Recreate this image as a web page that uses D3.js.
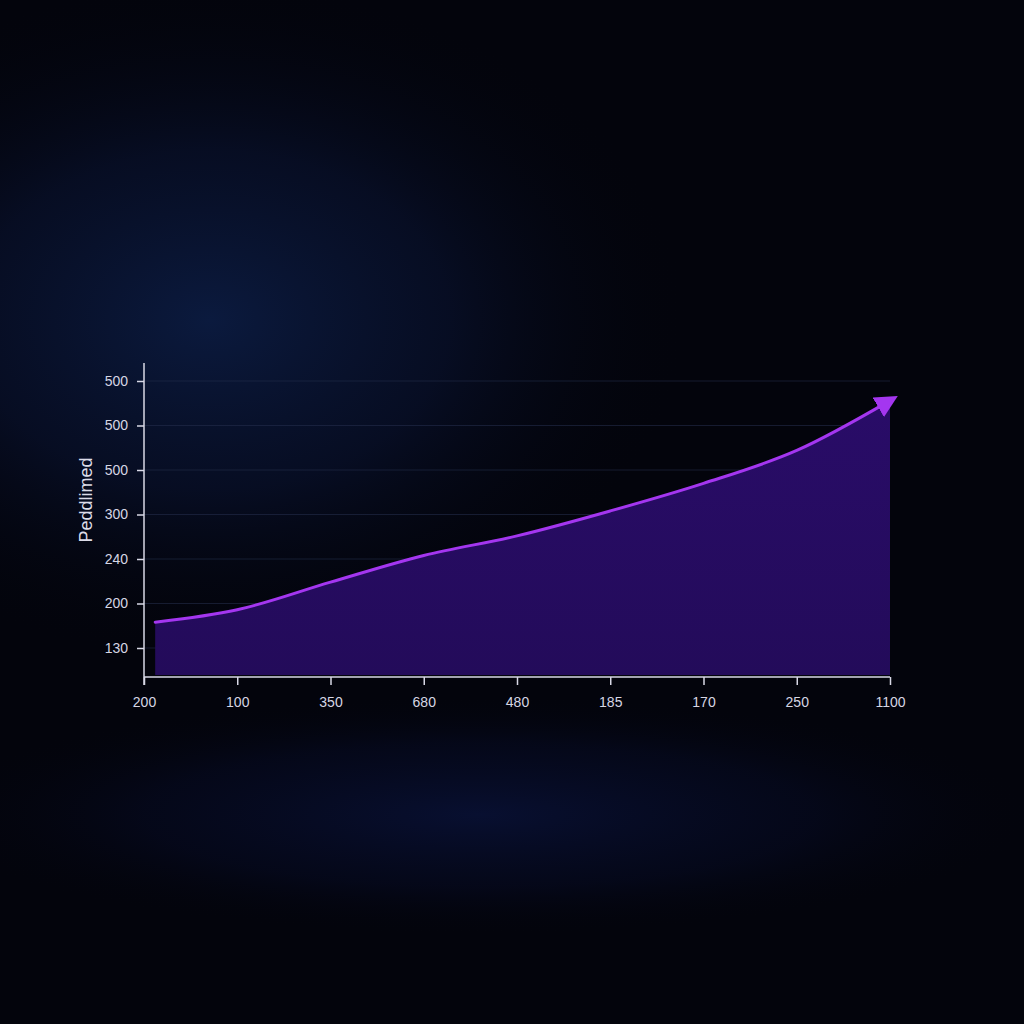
<!DOCTYPE html>
<html>
<head>
<meta charset="utf-8">
<script src="https://cdn.jsdelivr.net/npm/d3@7"></script>
<style>
  html, body { margin: 0; padding: 0; background: #03040c; }
  svg { display: block; }
</style>
</head>
<body>
<svg id="chart" width="1024" height="1024"></svg>
<script>
// ---- data ----
const xCategories = ["200", "100", "350", "680", "480", "185", "170", "250", "1100"];
const yTickValues = [100, 150, 200, 250, 300, 350, 400];
const yTickLabels = ["130", "200", "240", "300", "500", "500", "500"];
const seriesX = [0.12, 1, 2, 3, 4, 5, 6, 7, 8];
const seriesValues = [129, 143, 174, 204, 226, 254, 285, 322, 378];
const yAxisTitle = "Peddlimed";

(function () {
// ---- layout ----
const svg = d3.select("#chart");
const W = 1024, H = 1024;
const pLeft = 144, pRight = 890, pTop = 363, pBottom = 677;
const font = "'Liberation Sans', Arial, sans-serif";

const defs = svg.append("defs");
const g1 = defs.append("radialGradient").attr("id", "glow1")
  .attr("cx", 0.5).attr("cy", 0.5).attr("r", 0.5);
g1.append("stop").attr("offset", "0%").attr("stop-color", "#0b1a3e");
g1.append("stop").attr("offset", "50%").attr("stop-color", "#08102a").attr("stop-opacity", 0.75);
g1.append("stop").attr("offset", "100%").attr("stop-color", "#03040c").attr("stop-opacity", 0);
const g2 = defs.append("radialGradient").attr("id", "glow2")
  .attr("cx", 0.5).attr("cy", 0.5).attr("r", 0.5);
g2.append("stop").attr("offset", "0%").attr("stop-color", "#0a1440").attr("stop-opacity", 0.7);
g2.append("stop").attr("offset", "60%").attr("stop-color", "#070d2c").attr("stop-opacity", 0.4);
g2.append("stop").attr("offset", "100%").attr("stop-color", "#03040c").attr("stop-opacity", 0);
const areaGrad = defs.append("linearGradient").attr("id", "areaGrad")
  .attr("x1", 0).attr("x2", 0).attr("y1", 0).attr("y2", 1);
areaGrad.append("stop").attr("offset", "0%").attr("stop-color", "#290c68");
areaGrad.append("stop").attr("offset", "100%").attr("stop-color", "#230b5a");

const marker = defs.append("marker").attr("id", "arrow")
  .attr("viewBox", "0 0 10 10").attr("refX", 6).attr("refY", 5)
  .attr("markerWidth", 7.5).attr("markerHeight", 7.5)
  .attr("markerUnits", "strokeWidth").attr("orient", "auto");
marker.append("path").attr("d", "M0,0 L10,5 L0,10 Z").attr("fill", "#a436f0");

// background
svg.append("rect").attr("width", W).attr("height", H).attr("fill", "#03040c");
svg.append("ellipse").attr("cx", 210).attr("cy", 320).attr("rx", 480).attr("ry", 340)
  .attr("fill", "url(#glow1)");
svg.append("ellipse").attr("cx", 480).attr("cy", 815).attr("rx", 560).attr("ry", 120)
  .attr("fill", "url(#glow2)");

// scales
const x = d3.scaleLinear().domain([0, xCategories.length - 1]).range([pLeft, pRight]);
const yPerTick = 44.5;
const y = d3.scaleLinear().domain([100, 400]).range([648, 648 - 6 * yPerTick]);

// grid
svg.append("g").selectAll("line").data(yTickValues).join("line")
  .attr("x1", pLeft).attr("x2", pRight)
  .attr("y1", d => y(d)).attr("y2", d => y(d))
  .attr("stroke", "#26304f").attr("stroke-opacity", 0.55).attr("stroke-width", 1);

// area
const baseY = pBottom - 2;
const area = d3.area().x((d, i) => x(seriesX[i])).y0(baseY).y1(d => y(d))
  .curve(d3.curveMonotoneX);
svg.append("path").datum(seriesValues).attr("d", area).attr("fill", "url(#areaGrad)");

// line
const line = d3.line().x((d, i) => x(seriesX[i])).y(d => y(d)).curve(d3.curveMonotoneX);
svg.append("path").datum(seriesValues).attr("d", line)
  .attr("fill", "none").attr("stroke", "#a436f0").attr("stroke-width", 3)
  .attr("stroke-linecap", "round")
  .attr("marker-end", "url(#arrow)");

// axes
const axisColor = "#d8d8e6";
const yAxis = d3.axisLeft(y).tickValues(yTickValues)
  .tickFormat((d, i) => yTickLabels[i]).tickSize(7).tickPadding(9);
const yg = svg.append("g").attr("transform", `translate(${pLeft},0)`).call(yAxis);
yg.select(".domain").remove();
yg.append("line").attr("x1", 0).attr("x2", 0).attr("y1", pTop).attr("y2", pBottom + 8)
  .attr("stroke", axisColor).attr("stroke-width", 1.5);
yg.selectAll(".tick line").attr("stroke", axisColor).attr("stroke-width", 1.5);
yg.selectAll(".tick text").attr("fill", "#d6d6e4")
  .style("font-family", font).style("font-size", "14px");

const xAxis = d3.axisBottom(x).tickValues(d3.range(xCategories.length))
  .tickFormat(i => xCategories[i]).tickSize(8).tickPadding(12);
const xg = svg.append("g").attr("transform", `translate(0,${pBottom})`).call(xAxis);
xg.select(".domain").attr("stroke", axisColor).attr("stroke-width", 1.5)
  .attr("d", `M${pLeft},0H${pRight}`);
xg.selectAll(".tick line").attr("stroke", axisColor).attr("stroke-width", 1.5);
xg.selectAll(".tick text").attr("fill", "#d6d6e4")
  .style("font-family", font).style("font-size", "14px");

// y title
svg.append("text")
  .attr("transform", "translate(92,500) rotate(-90)")
  .attr("text-anchor", "middle")
  .attr("fill", "#dcdce8")
  .style("font-family", font).style("font-size", "18px")
  .text(yAxisTitle);
})();
</script>
</body>
</html>
